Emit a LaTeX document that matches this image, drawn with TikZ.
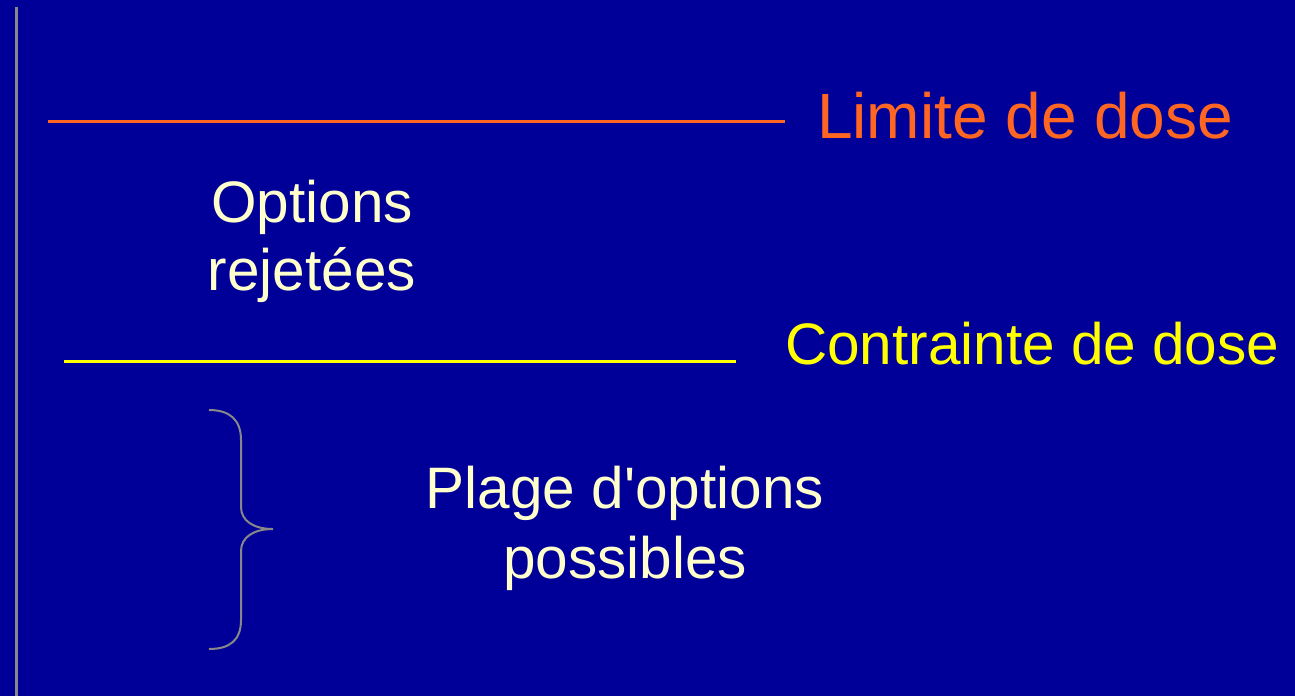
\documentclass[tikz,border=0pt]{standalone}
\usepackage{fontspec}
\setmainfont{Liberation Sans}[Ligatures=TeXOff]
\definecolor{bg}{HTML}{000099}
\definecolor{limorange}{HTML}{FF6622}
\definecolor{cyellow}{HTML}{FFFF00}
\definecolor{paleyellow}{HTML}{FFFFCC}
\definecolor{bracegray}{HTML}{888888}
\begin{document}
\begin{tikzpicture}[x=1pt,y=-1pt,
  label/.style={anchor=base,inner sep=0pt,outer sep=0pt},
  txt/.style={label,text=paleyellow,font=\fontsize{58.5}{64}\selectfont},
  bracestyle/.style={draw=bracegray,line width=2pt}]
\fill[bg] (0,0) rectangle (1295,696);
\useasboundingbox (0,0) rectangle (1295,696);
% left gray rule
\coordinate (vt) at (16,7);
\coordinate (vb) at (16,696);
\draw[bracegray,line width=3pt] (vt) -- (vb);
% dose limit
\coordinate (l1) at (48,121);
\coordinate (l2) at (785,121);
\draw[limorange,line width=3pt] (l1) -- (l2);
\node[label,anchor=base west,text=limorange,font=\fontsize{64}{70}\selectfont] (limite) at (817,138) {Limite de dose};
% dose constraint
\coordinate (c1) at (64,361);
\coordinate (c2) at (736,361);
\draw[cyellow,line width=3pt] (c1) -- (c2);
\node[label,anchor=base west,text=cyellow,font=\fontsize{58.5}{64}\selectfont] (contrainte) at (785,364) {Contrainte de dose};
% rejected options
\node[txt] (opt1) at (312,222) {Options};
\node[txt] (opt2) at (312,290) {rejetées};
% possible range
\node[txt] (plage1) at (625,508) {Plage d'options};
\node[txt] (plage2) at (625,578) {possibles};
% brace
\coordinate (bt) at (209,410);
\coordinate (btip) at (273,529);
\coordinate (bb) at (209,649);
\draw[bracestyle] (bt) .. controls (230,410) and (241,420) .. (241,440) -- (241,507)
  .. controls (241,521) and (254,529) .. (btip)
  .. controls (254,529) and (241,537) .. (241,551) -- (241,620)
  .. controls (241,640) and (230,649) .. (bb);
\end{tikzpicture}
\end{document}
